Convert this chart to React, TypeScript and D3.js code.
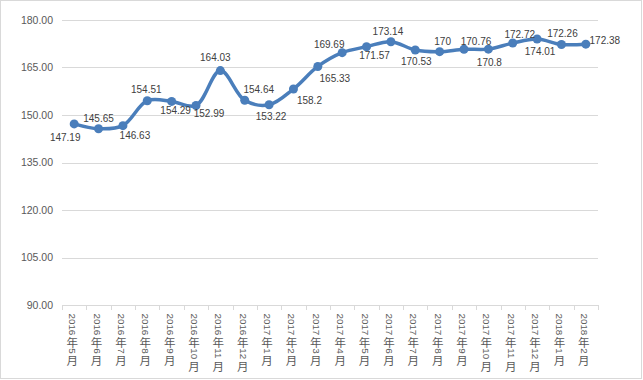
import React from "react";
import * as d3 from "d3";

const categories = [
  "2016年5月", "2016年6月", "2016年7月", "2016年8月", "2016年9月", "2016年10月",
  "2016年11月", "2016年12月", "2017年1月", "2017年2月", "2017年3月", "2017年4月",
  "2017年5月", "2017年6月", "2017年7月", "2017年8月", "2017年9月", "2017年10月",
  "2017年11月", "2017年12月", "2018年1月", "2018年2月",
];
const values = [
  147.19, 145.65, 146.63, 154.51, 154.29, 152.99, 164.03, 154.64, 153.22, 158.2, 165.33,
  169.69, 171.57, 173.14, 170.53, 170, 170.76, 170.8, 172.72, 174.01, 172.26, 172.38,
];
const labels = [
  "147.19", "145.65", "146.63", "154.51", "154.29", "152.99", "164.03", "154.64", "153.22",
  "158.2", "165.33", "169.69", "171.57", "173.14", "170.53", "170", "170.76", "170.8",
  "172.72", "174.01", "172.26", "172.38",
];
const yTicks = [90, 105, 120, 135, 150, 165, 180];

// label offsets relative to the point (dx, dy of label centre)
const labelOffsets: [number, number][] = [
  [-9, 14], [0, -10], [12, 10], [-1, -11], [4, 9], [13, 8], [-5, -13], [14, -11],
  [2, 12], [16, 11], [17, 12], [-13, -8], [8, 9], [-3, -10], [1, 12], [3, -10],
  [12, -8], [1, 13], [7, -9], [3, 13], [1, -11], [19, -4],
];

const W = 643;
const H = 380;
const margin = { left: 62, right: 45, top: 20, bottom: 75 };
const textColor = "#595959";
const gridColor = "#d9d9d9";
const lineColor = "#4a7ebb";
const font = "'Liberation Sans', Arial, sans-serif";
const cjkFont = "'Noto Sans CJK SC', sans-serif";

const DIGIT_FS = 9.8;
const DIGIT_ADV = DIGIT_FS * 0.556;
const CJK_FS = 11.5;
const CJK_ADV = 13;

function VerticalLabel({ label, x, y0 }: { label: string; x: number; y0: number }) {
  const tokens = label.match(/[0-9]+|[^0-9]/g) || [];
  let cur = y0;
  const parts: React.ReactNode[] = [];
  tokens.forEach((t, i) => {
    if (/^[0-9]+$/.test(t)) {
      parts.push(
        <text
          key={i}
          transform={`translate(${x + 0.5},${cur}) rotate(90)`}
          dominantBaseline="central"
          fontSize={DIGIT_FS}
          fontFamily={font}
          fill={textColor}
        >
          {t}
        </text>
      );
      cur += t.length * DIGIT_ADV;
    } else {
      parts.push(
        <text
          key={i}
          x={x}
          y={cur + CJK_ADV / 2}
          dominantBaseline="central"
          textAnchor="middle"
          fontSize={CJK_FS}
          fontFamily={cjkFont}
          fill={textColor}
        >
          {t}
        </text>
      );
      cur += CJK_ADV;
    }
  });
  return <g>{parts}</g>;
}

export default function App() {
  const x = d3
    .scaleBand<string>()
    .domain(categories)
    .range([margin.left, W - margin.right])
    .paddingInner(0)
    .paddingOuter(0);
  const y = d3.scaleLinear().domain([90, 180]).range([H - margin.bottom, margin.top]);
  const cx = (c: string) => (x(c) as number) + x.bandwidth() / 2;

  const line = d3
    .line<number>()
    .x((_, i) => cx(categories[i]))
    .y((d) => y(d))
    .curve(d3.curveCatmullRom.alpha(0.5));

  const x0 = margin.left;
  const x1 = W - margin.right;
  const yBase = y(90);

  const boundaries = categories.map((c) => x(c) as number).concat([x1]);

  return (
    <svg
      width={W}
      height={H}
      style={{ position: "absolute", left: 0, top: 0, background: "#fff" }}
      fontFamily={font}
    >
      <rect x={0.5} y={0.5} width={W - 2} height={H - 2} fill="#fff" stroke={gridColor} />
      {yTicks.map((t) => (
        <g key={t}>
          {t !== 90 && (
            <line x1={x0} x2={x1} y1={Math.round(y(t)) + 0.5} y2={Math.round(y(t)) + 0.5} stroke={gridColor} strokeWidth={1} />
          )}
          <text x={53} y={y(t)} dy="0.35em" textAnchor="end" fontSize={10.5} fill={textColor}>
            {t.toFixed(2)}
          </text>
        </g>
      ))}
      <line x1={x0} x2={x1} y1={Math.round(yBase) + 0.5} y2={Math.round(yBase) + 0.5} stroke={gridColor} />
      {boundaries.map((b, i) => (
        <line key={i} x1={Math.round(b) + 0.5} x2={Math.round(b) + 0.5} y1={yBase} y2={yBase + 5} stroke={gridColor} />
      ))}
      {categories.map((c) => (
        <VerticalLabel key={c} label={c} x={cx(c) - 2} y0={yBase + 8.5} />
      ))}
      <path d={line(values) || ""} fill="none" stroke={lineColor} strokeWidth={3.5} strokeLinecap="round" strokeLinejoin="round" />
      {values.map((v, i) => (
        <circle key={i} cx={cx(categories[i])} cy={y(v)} r={4.5} fill={lineColor} />
      ))}
      {values.map((v, i) => (
        <text
          key={"l" + i}
          x={cx(categories[i]) + labelOffsets[i][0]}
          y={y(v) + labelOffsets[i][1]}
          dy="0.35em"
          textAnchor="middle"
          fontSize={10}
          fill="#404040"
        >
          {labels[i]}
        </text>
      ))}
    </svg>
  );
}
